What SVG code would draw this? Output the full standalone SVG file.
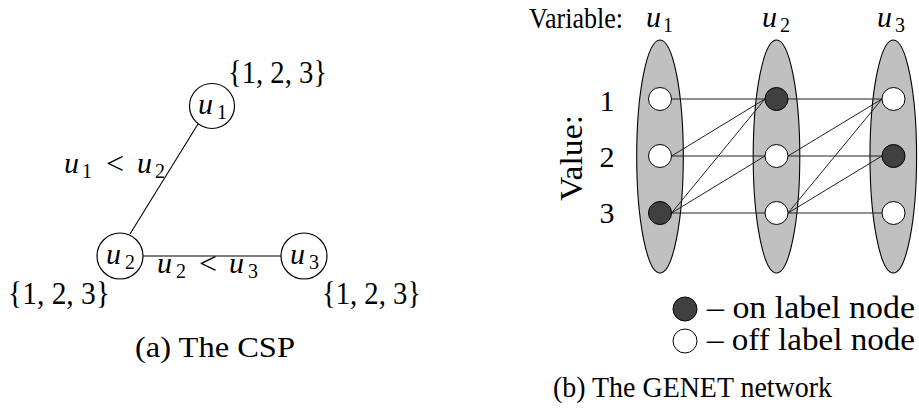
<svg xmlns="http://www.w3.org/2000/svg" width="919" height="412" viewBox="0 0 919 412">
<style>
text{font-family:'Liberation Serif','Times New Roman',serif;fill:#000}
.m{font-size:30px}
.i{font-style:italic}
.s{font-size:20px}
.r{font-size:30px}
.c{font-size:28px}
.edge{stroke:#000;stroke-width:1.1;fill:none}
.net{stroke:#222;stroke-width:1;fill:none}
.var{fill:#fff;stroke:#000;stroke-width:1.2}
.grp{fill:#c0c0c0;stroke:#000;stroke-width:1.1}
.on{fill:#404040;stroke:#000;stroke-width:1}
.off{fill:#fff;stroke:#000;stroke-width:1}
</style>
<rect width="919" height="412" fill="#fff"/>

<!-- (a) CSP -->
<g id="csp-connectors">
<line class="edge" x1="198" y1="124" x2="130" y2="234"/>
<line class="edge" x1="143" y1="256" x2="281" y2="256"/>
</g>
<g id="csp-u1">
<circle class="var" cx="212" cy="106" r="22.5"/>
<text class="m i" x="198" y="114">u</text><text class="s" x="217" y="119">1</text>
<text class="m" x="228" y="83" textLength="99" lengthAdjust="spacingAndGlyphs" style="font-size:32px">{1, 2, 3}</text>
</g>
<g id="csp-u2">
<circle class="var" cx="120" cy="256" r="23"/>
<text class="m i" x="106" y="264">u</text><text class="s" x="125" y="269">2</text>
<text class="m" x="8" y="304" textLength="102" lengthAdjust="spacingAndGlyphs" style="font-size:32px">{1, 2, 3}</text>
</g>
<g id="csp-u3">
<circle class="var" cx="304" cy="256" r="23"/>
<text class="m i" x="290" y="264">u</text><text class="s" x="309" y="269">3</text>
<text class="m" x="322" y="304" textLength="99" lengthAdjust="spacingAndGlyphs" style="font-size:32px">{1, 2, 3}</text>
</g>
<g id="csp-labels">
<text class="m i" x="64" y="173">u</text><text class="s" x="82" y="178">1</text>
<text class="m" x="106" y="174" style="font-size:32px">&lt;</text>
<text class="m i" x="137" y="173">u</text><text class="s" x="155" y="178">2</text>
<text class="m i" x="157" y="273">u</text><text class="s" x="176" y="278">2</text>
<text class="m" x="199" y="274" style="font-size:32px">&lt;</text>
<text class="m i" x="229" y="273">u</text><text class="s" x="248" y="278">3</text>
<text class="c" x="135" y="357" textLength="160" lengthAdjust="spacingAndGlyphs" style="font-size:30px">(a) The CSP</text>
</g>

<!-- (b) GENET -->
<g id="headers">
<text class="r" x="529" y="28" textLength="94" lengthAdjust="spacingAndGlyphs">Variable:</text>
<text class="m i" x="646" y="27">u</text><text class="s" x="663" y="32">1</text>
<text class="m i" x="762" y="27">u</text><text class="s" x="780" y="32">2</text>
<text class="m i" x="877" y="27">u</text><text class="s" x="895" y="32">3</text>
<text class="r" transform="translate(582,158) rotate(-90)" text-anchor="middle" textLength="86" lengthAdjust="spacingAndGlyphs" style="font-size:32px">Value:</text>
<text class="r" x="607" y="111" text-anchor="middle">1</text>
<text class="r" x="607" y="167" text-anchor="middle">2</text>
<text class="r" x="607" y="223" text-anchor="middle">3</text>
</g>
<g id="cluster-u1"><ellipse class="grp" cx="660" cy="156.5" rx="23.3" ry="116.5"/></g>
<g id="cluster-u2"><ellipse class="grp" cx="776.5" cy="156.5" rx="23.3" ry="116.5"/></g>
<g id="cluster-u3"><ellipse class="grp" cx="893.3" cy="156.5" rx="23.3" ry="116.5"/></g>
<g id="net-connectors">
<line class="net" x1="671.5" y1="99" x2="765" y2="99"/>
<line class="net" x1="671.5" y1="156" x2="765" y2="156"/>
<line class="net" x1="671.5" y1="213" x2="765" y2="213"/>
<line class="net" x1="671.5" y1="156" x2="765" y2="99"/>
<line class="net" x1="671.5" y1="213" x2="765" y2="99"/>
<line class="net" x1="671.5" y1="213" x2="765" y2="156"/>
<line class="net" x1="788" y1="99" x2="882" y2="99"/>
<line class="net" x1="788" y1="156" x2="882" y2="156"/>
<line class="net" x1="788" y1="213" x2="882" y2="213"/>
<line class="net" x1="788" y1="156" x2="882" y2="99"/>
<line class="net" x1="788" y1="213" x2="882" y2="99"/>
<line class="net" x1="788" y1="213" x2="882" y2="156"/>
</g>
<g id="n-u1-1"><circle class="off" cx="660" cy="99" r="11.5"/></g>
<g id="n-u1-2"><circle class="off" cx="660" cy="156" r="11.5"/></g>
<g id="n-u1-3"><circle class="on" cx="660" cy="213" r="11.5"/></g>
<g id="n-u2-1"><circle class="on" cx="776.5" cy="99" r="11.5"/></g>
<g id="n-u2-2"><circle class="off" cx="776.5" cy="156" r="11.5"/></g>
<g id="n-u2-3"><circle class="off" cx="776.5" cy="213" r="11.5"/></g>
<g id="n-u3-1"><circle class="off" cx="893.5" cy="99" r="11.5"/></g>
<g id="n-u3-2"><circle class="on" cx="893.5" cy="156" r="11.5"/></g>
<g id="n-u3-3"><circle class="off" cx="893.5" cy="213" r="11.5"/></g>
<g id="legend">
<circle class="on" cx="685" cy="309" r="12"/>
<text class="r" x="707" y="318" textLength="208" lengthAdjust="spacingAndGlyphs" style="font-size:31px">– on label node</text>
<circle class="off" cx="685" cy="341" r="12"/>
<text class="r" x="707" y="350" textLength="208" lengthAdjust="spacingAndGlyphs" style="font-size:31px">– off label node</text>
<text class="c" x="553" y="397" textLength="279" lengthAdjust="spacingAndGlyphs" style="font-size:30px">(b) The GENET network</text>
</g>
</svg>
